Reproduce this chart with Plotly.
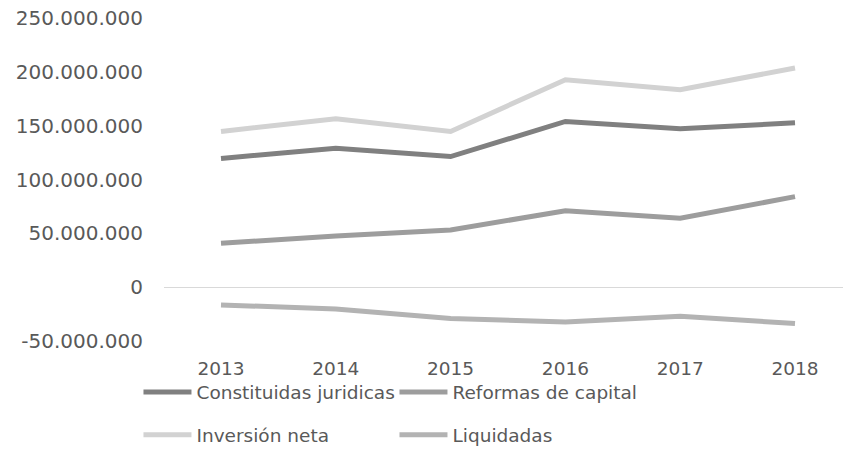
import plotly.graph_objects as go

years = ["2013", "2014", "2015", "2016", "2017", "2018"]
constituidas = [119.5e6, 129.1e6, 121.3e6, 153.9e6, 147.1e6, 152.7e6]
reformas = [40.7e6, 47.5e6, 53.1e6, 71.0e6, 64.0e6, 84.1e6]
inversion = [144.6e6, 156.4e6, 144.6e6, 192.7e6, 183.4e6, 203.6e6]
liquidadas = [-16.5e6, -20.2e6, -29.1e6, -32.3e6, -27.0e6, -33.8e6]

y_ticks = [-50e6, 0, 50e6, 100e6, 150e6, 200e6, 250e6]
y_tick_labels = ["-50.000.000", "0", "50.000.000", "100.000.000", "150.000.000", "200.000.000", "250.000.000"]

series = [
    ("Constituidas juridicas", constituidas, "#808080", "legend"),
    ("Reformas de capital", reformas, "#9d9d9d", "legend"),
    ("Inversión neta", inversion, "#d2d2d2", "legend2"),
    ("Liquidadas", liquidadas, "#b3b3b3", "legend2"),
]

fig = go.Figure()
for name, vals, color, lg in series:
    fig.add_trace(go.Scatter(
        x=years, y=vals, name=name, mode="lines",
        line=dict(color=color, width=5),
        legend=lg,
    ))

text_color = "#595959"
font_family = "DejaVu Sans"

legend_common = dict(
    orientation="h",
    xanchor="left",
    yanchor="middle",
    font=dict(family=font_family, size=18.5, color=text_color),
    entrywidth=193,
    entrywidthmode="pixels",
    itemwidth=48,
    bgcolor="rgba(0,0,0,0)",
    tracegroupgap=0,
)

fig.update_layout(
    width=843, height=449,
    margin=dict(l=164, r=0, t=18, b=108, autoexpand=False),
    paper_bgcolor="white",
    plot_bgcolor="white",
    font=dict(family=font_family, color=text_color),
    xaxis=dict(
        type="category",
        range=[-0.4965, 5.418],
        showgrid=False, zeroline=False, showline=False,
        ticks="",
        automargin=False,
        tickfont=dict(family=font_family, size=18.5, color=text_color),
        ticklabelstandoff=14,
    ),
    yaxis=dict(
        range=[-50e6, 250e6],
        tickvals=y_ticks, ticktext=y_tick_labels,
        showgrid=False,
        zeroline=True, zerolinecolor="#d9d9d9", zerolinewidth=1,
        showline=False, ticks="",
        automargin=False,
        tickfont=dict(family=font_family, size=20, color=text_color),
        ticklabelstandoff=20,
    ),
    legend=dict(x=-0.0376, y=-0.159, **legend_common),
    legend2=dict(x=-0.0376, y=-0.292, **legend_common),
    showlegend=True,
)

fig.write_html(
    "out.html",
    config={"displayModeBar": False},
    post_script="document.body.style.margin='0px';document.body.style.overflow='hidden';",
)
